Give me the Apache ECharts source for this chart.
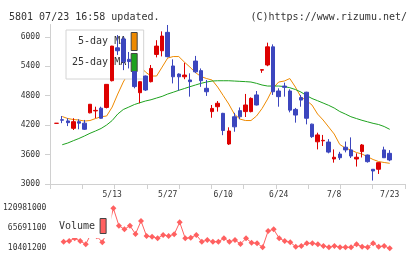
<!DOCTYPE html>
<html>
<head>
<meta charset="utf-8">
<script src="https://cdn.jsdelivr.net/npm/echarts@6/dist/echarts.min.js"></script>
<style>
  html, body { margin: 0; padding: 0; background: #fff; }
  #chart { width: 420px; height: 259px; }
</style>
</head>
<body>
<div id="chart"></div>
<script>
var dates = ['4/24', '4/25', '4/26', '4/30', '5/1', '5/2', '5/7', '5/8', '5/9', '5/10',
  '5/13', '5/14', '5/15', '5/16', '5/17', '5/20', '5/21', '5/22', '5/23', '5/24',
  '5/27', '5/28', '5/29', '5/30', '5/31', '6/3', '6/4', '6/5', '6/6', '6/7',
  '6/10', '6/11', '6/12', '6/13', '6/14', '6/17', '6/18', '6/19', '6/20', '6/21',
  '6/24', '6/25', '6/26', '6/27', '6/28', '7/1', '7/2', '7/3', '7/4', '7/5',
  '7/8', '7/9', '7/10', '7/11', '7/12', '7/16', '7/17', '7/18', '7/19', '7/22', '7/23']
// open, close, low, high
var ohlc = [
  [4236, 4238, 4230, 4242], [4310, 4300, 4240, 4385], [4285, 4250, 4180, 4340], [4135, 4270, 4100, 4340],
  [4270, 4240, 4115, 4320], [4240, 4115, 4100, 4305], [4450, 4625, 4440, 4630], [4490, 4500, 4340, 4575],
  [4545, 4340, 4330, 4575], [4560, 5030, 4540, 5035], [5105, 5810, 5090, 5815], [5775, 5715, 5630, 6035],
  [5955, 5490, 5320, 6000], [5540, 5495, 5355, 5690], [5290, 4985, 4950, 5300], [4860, 5085, 4645, 5090],
  [5200, 4915, 4895, 5210], [5085, 5355, 5070, 5425], [5640, 5810, 5580, 5930], [5715, 6015, 5600, 6110],
  [6090, 5595, 5580, 6240], [5405, 5185, 5050, 5540], [5240, 5185, 4900, 5255], [5185, 5220, 5135, 5470],
  [5120, 5085, 4780, 5255], [5505, 5285, 5260, 5610], [5310, 5105, 4980, 5355], [4950, 4880, 4795, 5120],
  [4475, 4540, 4350, 4610], [4575, 4645, 4475, 4690], [4440, 4090, 3995, 4450], [3815, 4080, 3795, 4155],
  [4370, 4165, 4065, 4450], [4495, 4370, 4320, 4560], [4475, 4610, 4365, 4835], [4475, 4745, 4460, 4765],
  [4815, 4610, 4600, 4895], [5320, 5330, 5265, 5335], [5425, 5795, 5400, 5880], [5795, 4880, 4815, 5845],
  [4895, 4780, 4575, 4950], [4995, 4970, 4780, 5065], [4895, 4505, 4460, 4930], [4520, 4405, 4250, 4550],
  [4760, 4710, 4575, 4815], [4870, 4340, 4215, 4880], [4220, 3965, 3940, 4230], [3860, 4000, 3705, 4045],
  [3880, 3890, 3775, 4000], [3855, 3650, 3625, 3915], [3510, 3545, 3435, 3705], [3610, 3535, 3490, 3655],
  [3750, 3695, 3645, 3865], [3695, 3570, 3530, 3950], [3510, 3545, 3355, 3625], [3660, 3795, 3540, 3815],
  [3590, 3455, 3435, 3600], [3300, 3265, 3070, 3300], [3300, 3435, 3205, 3440], [3695, 3535, 3530, 3760],
  [3625, 3490, 3465, 3690]
]
var ma5 = [null, 4375, 4334, 4314, 4304, 4283, 4293, 4334, 4371, 4385, 4568, 4833, 5078, 5277, 5500,
  5404, 5281, 5200, 5200, 5383, 5567, 5597, 5597, 5485, 5383, 5271, 5190, 5149, 5118, 4976,
  4803, 4630, 4426, 4324, 4293, 4293, 4385, 4538, 4731, 4956, 5078, 5098, 5149, 4976, 4772,
  4701, 4609, 4426, 4304, 4161, 4018, 3805, 3733, 3693, 3642, 3611, 3556, 3499, 3458, 3438, 3422]
var ma25 = [null, 3800, 3835, 3882, 3927, 3978, 4033, 4080, 4131, 4202, 4293, 4426, 4518, 4568, 4619,
  4656, 4691, 4717, 4752, 4786, 4833, 4870, 4909, 4945, 4982, 5017, 5051, 5078, 5098, 5104,
  5104, 5104, 5098, 5092, 5086, 5078, 5051, 5017, 4996, 4996, 4996, 4986, 4962, 4925, 4874,
  4803, 4742, 4697, 4650, 4603, 4548, 4477, 4426, 4371, 4334, 4298, 4267, 4236, 4212, 4171, 4114]
var volume = [null, 28600000, 30600000, 38000000, 30600000, 21500000, 52000000, 44000000, 27000000, 60000000,
  120981000, 72900000, 62900000, 72900000, 49900000, 85900000, 44400000, 42500000, 38000000, 47200000,
  44400000, 49100000, 82300000, 38000000, 39700000, 47200000, 28600000, 33300000, 28600000, 28600000,
  38000000, 28600000, 33300000, 22300000, 38000000, 25900000, 24200000, 13200000, 58200000, 62900000,
  38000000, 30600000, 27000000, 14800000, 16800000, 24200000, 24200000, 21500000, 16800000, 13200000,
  16800000, 13200000, 13200000, 13200000, 21500000, 14800000, 13200000, 24200000, 14800000, 16800000,
  10401200]
var priceTicks = [3000, 3600, 4200, 4800, 5400, 6000]
var volumeTicks = [10401200, 65691100, 120981000]
var dateLabels = ['5/13', '5/27', '6/10', '6/24', '7/8', '7/23']

var mono = 'DejaVu Sans Mono'
var axisGray = '#d0d0d0'
// plain numbers, no thousands separators
var plain = function (v) { return String(v) }

var chart = echarts.init(document.getElementById('chart'))
var option = {
  animation: false,
  title: [
    { text: '5801 07/23 16:58 updated.', left: 4, top: 7, textStyle: { fontFamily: mono, fontSize: 10, fontWeight: 'normal', color: '#333' } },
    { text: '(C)https://www.rizumu.net/', right: 8, top: 7, textStyle: { fontFamily: mono, fontSize: 10, fontWeight: 'normal', color: '#333' } }
  ],
  legend: [
    {
      data: [{ name: '5-day MA', icon: 'rect' }, { name: '25-day MA', icon: 'rect' }],
      orient: 'vertical',
      align: 'right',
      left: 66,
      top: 30,
      padding: [2, 6, 7, 6],
      itemWidth: 6,
      itemHeight: 18,
      itemGap: 2,
      backgroundColor: '#fff',
      borderColor: '#d4d4d4',
      borderWidth: 1,
      selectedMode: false,
      itemStyle: { borderColor: '#444', borderWidth: 1 },
      textStyle: { fontFamily: mono, fontSize: 10, color: '#333' }
    },
    {
      data: [{ name: 'Volume', icon: 'rect' }],
      align: 'right',
      left: 56,
      top: 211,
      padding: [7, 5, 4, 3],
      itemWidth: 6,
      itemHeight: 15,
      backgroundColor: '#fff',
      selectedMode: false,
      itemStyle: { borderColor: '#444', borderWidth: 1 },
      textStyle: { fontFamily: mono, fontSize: 10, color: '#333' }
    }
  ],
  grid: [
    { left: 50, top: 24.5, width: 355, height: 159.5 },
    { left: 53.9, top: 24.5, width: 338.6, height: 159.5 },
    { left: 53.9, top: 208.3, width: 338.6, height: 40 }
  ],
  xAxis: [
    {
      gridIndex: 0, type: 'value', min: 0, max: 11, interval: 1,
      axisLine: { lineStyle: { color: axisGray } },
      axisTick: { length: 5, lineStyle: { color: axisGray } },
      axisLabel: { show: false },
      splitLine: { show: false }
    },
    {
      gridIndex: 1, type: 'category', data: dates, boundaryGap: true,
      axisLine: { show: false },
      axisTick: { show: false },
      axisLabel: {
        margin: 7,
        fontFamily: mono,
        fontSize: 8,
        color: '#333',
        interval: function (idx, val) { return dateLabels.indexOf(val) >= 0 }
      }
    },
    {
      gridIndex: 2, type: 'category', data: dates, boundaryGap: true,
      axisLine: { show: false }, axisTick: { show: false }, axisLabel: { show: false }
    }
  ],
  yAxis: [
    {
      gridIndex: 0, type: 'value', min: 3000, max: 6250,
      axisLine: { show: true, lineStyle: { color: axisGray } },
      axisTick: { show: true, length: 5, customValues: priceTicks, lineStyle: { color: axisGray } },
      axisLabel: { customValues: priceTicks, formatter: plain, margin: 10, fontFamily: mono, fontSize: 8, color: '#333' },
      splitLine: { show: false }
    },
    {
      gridIndex: 1, type: 'value', min: 3000, max: 6250,
      axisLine: { show: false }, axisTick: { show: false }, axisLabel: { show: false }, splitLine: { show: false }
    },
    {
      gridIndex: 2, type: 'value', min: volumeTicks[0], max: volumeTicks[2],
      axisLine: { show: false },
      axisTick: { show: false },
      axisLabel: { customValues: volumeTicks, formatter: plain, margin: 9, fontFamily: mono, fontSize: 8, color: '#333' },
      splitLine: { show: false }
    }
  ],
  series: [
    {
      name: '5-day MA',
      type: 'line',
      xAxisIndex: 1,
      yAxisIndex: 1,
      data: ma5,
      symbol: 'none',
      color: '#ee8a00',
      lineStyle: { width: 1, color: '#ee8a00' },
      z: 2
    },
    {
      name: '25-day MA',
      type: 'line',
      xAxisIndex: 1,
      yAxisIndex: 1,
      data: ma25,
      symbol: 'none',
      color: '#1ea21e',
      lineStyle: { width: 1, color: '#1ea21e' },
      z: 2
    },
    {
      name: 'Price',
      type: 'candlestick',
      xAxisIndex: 1,
      yAxisIndex: 1,
      data: ohlc,
      barWidth: 4,
      z: 6, // candles sit on top of the legend box
      itemStyle: {
        color: '#dd0000',
        color0: '#3c46be',
        borderColor: '#dd0000',
        borderColor0: '#3c46be',
        borderWidth: 1
      }
    },
    {
      name: 'Volume',
      type: 'line',
      xAxisIndex: 2,
      yAxisIndex: 2,
      data: volume,
      symbol: 'diamond',
      symbolSize: 6,
      showAllSymbol: true,
      color: '#ff6060',
      lineStyle: { width: 1, color: '#ff6060' },
      itemStyle: { color: '#ff6060' },
      z: 2
    }
  ]
}
chart.setOption(option)
window.onresize = chart.resize
</script>
</body>
</html>
